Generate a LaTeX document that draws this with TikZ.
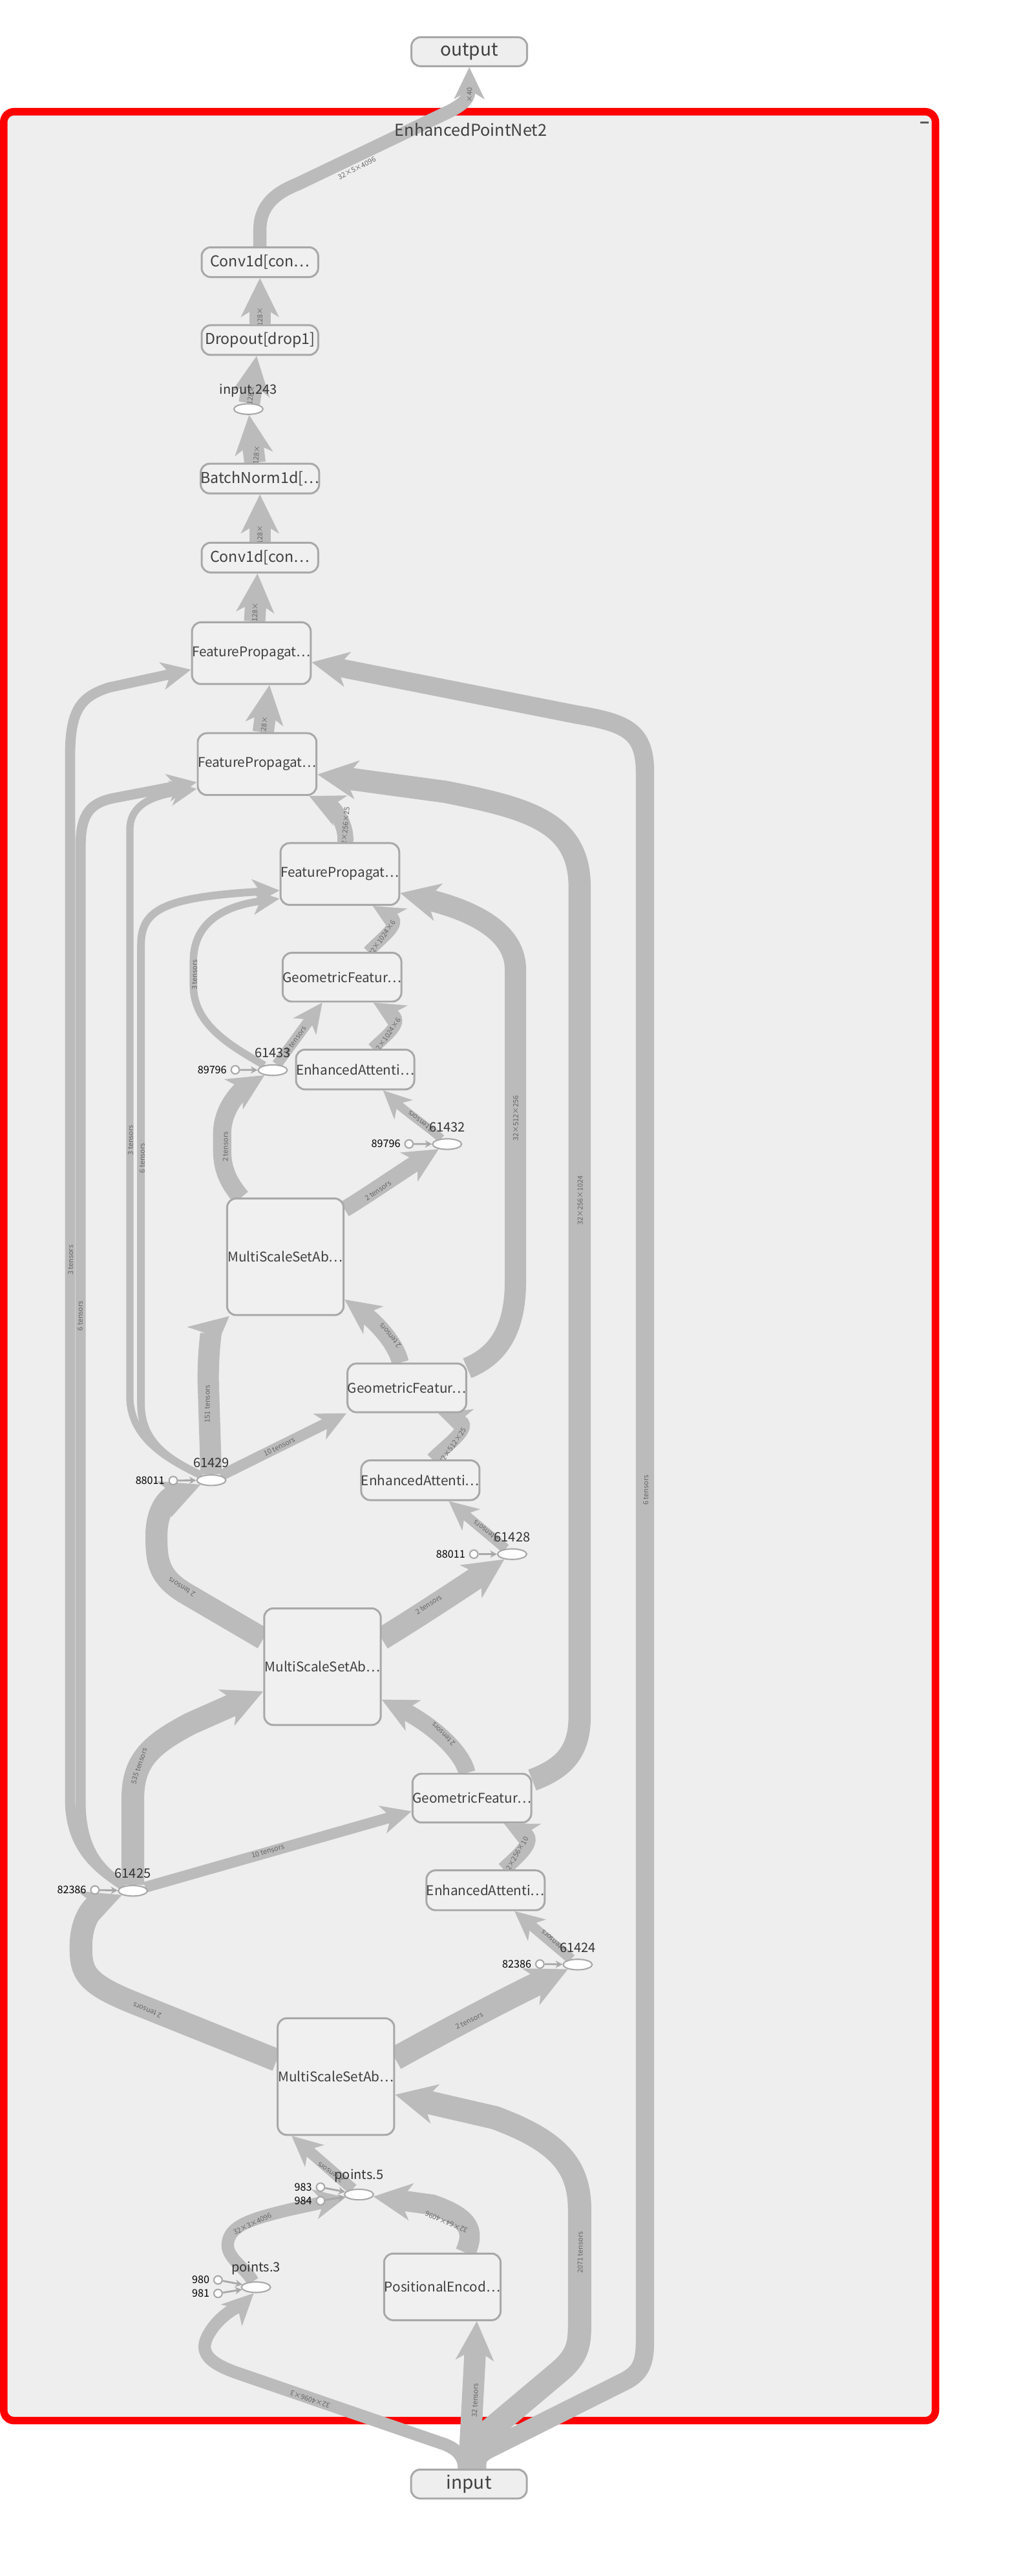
\documentclass[tikz,border=0pt]{standalone}
\usepackage{fontspec}
\setmainfont{Noto Sans CJK SC}
\usetikzlibrary{arrows.meta,positioning,calc,shapes.geometric}
\definecolor{edgegray}{HTML}{BBBBBB}
\definecolor{boxline}{HTML}{A8A8A8}
\definecolor{boxfill}{HTML}{F0F0F0}
\definecolor{panel}{HTML}{EEEEEE}
\definecolor{txt}{HTML}{404040}
\definecolor{lbltxt}{HTML}{666666}
\newcommand{\setfs}[1]{\fontsize{#1}{#1}\selectfont}
\pgfdeclarelayer{bg}
\pgfdeclarelayer{wires}
\pgfdeclarelayer{tags}
\pgfsetlayers{bg,wires,tags,main}

\begin{document}
\begin{tikzpicture}[
  x=0.0254cm, y=-0.0254cm,
  modbox/.style={rectangle, draw=boxline, line width=0.85pt, rounded corners=0.14cm, fill=boxfill, inner sep=0pt, minimum width=1.803cm, text=txt, font=\setfs{5.9}},
  chainbox/.style={modbox, minimum height=0.46cm, font=\setfs{6.6}},
  fpbox/.style={modbox, minimum height=0.955cm},
  gfbox/.style={modbox, minimum height=0.754cm},
  eabox/.style={modbox, minimum height=0.615cm},
  msbox/.style={modbox, minimum height=1.803cm},
  iobox/.style={modbox, minimum width=1.79cm, minimum height=0.447cm, fill=panel, font=\setfs{8}},
  opnode/.style={ellipse, draw=boxline, line width=0.6pt, fill=white, minimum width=0.45cm, minimum height=0.163cm, inner sep=0pt},
  oplbl/.style={font=\setfs{5.7}, text=black!80, inner sep=0pt},
  kdot/.style={circle, draw=boxline, line width=0.6pt, fill=white, minimum size=0.127cm, inner sep=0pt},
  klbl/.style={font=\setfs{4.6}, text=black, inner sep=0pt},
  flow/.style={draw=edgegray, line width=#1, -{Stealth[length=9pt 0.85, width=8pt 0.9, inset=2.5pt 0.25]}},
  cflow/.style={draw=boxline, line width=0.8pt, -{Stealth[length=3pt, width=3.2pt]}},
  elbl/.style={font=\setfs{3.1}, text=lbltxt, inner sep=0pt}
]
\begin{pgfonlayer}{bg}
\fill[white] (0,0) rectangle (616,1568);
\draw[draw=red, line width=3.3pt, fill=panel, rounded corners=0.16cm] (1,68) rectangle (568.4,1473.4);
\fill[black!65] (559,73.8) rectangle (564.4,75.3);
\end{pgfonlayer}
\useasboundingbox (0,0) rectangle (616,1568);

\node[font=\setfs{7.2}, text=txt] (title) at (285.5,79) {EnhancedPointNet2};
\node[iobox] (output) at (284.5,31.5) {output};
\node[iobox] (input) at (284.3,1512) {input};

% head of the network
\node[chainbox] (conv2) at (157,159.6) {Conv1d[con…};
\node[chainbox] (drop) at (157,207) {Dropout[drop1]};
\node[opnode] (inp243) at (150,249) {};
\node[oplbl, above=2.6pt of inp243] (tinp243) {input.243};
\node[chainbox] (bn) at (157,291.3) {BatchNorm1d[…};
\node[chainbox] (conv1) at (157,339.4) {Conv1d[con…};

% feature propagation
\node[fpbox] (fp1) at (151.8,397.6) {FeaturePropagat…};
\node[fpbox] (fp2) at (155.3,465.1) {FeaturePropagat…};
\node[fpbox] (fp3) at (205.7,532) {FeaturePropagat…};

% abstraction levels
\node[gfbox] (gf1) at (207,594.8) {GeometricFeatur…};
\node[eabox] (ea1) at (215,651) {EnhancedAttenti…};
\node[msbox] (ms1) at (172.5,765) {MultiScaleSetAb…};
\node[gfbox] (gf2) at (246.5,844.8) {GeometricFeatur…};
\node[eabox] (ea2) at (254.7,901) {EnhancedAttenti…};
\node[msbox] (ms2) at (195.1,1014.5) {MultiScaleSetAb…};
\node[gfbox] (gf3) at (286.1,1094.5) {GeometricFeatur…};
\node[eabox] (ea3) at (294.4,1150.6) {EnhancedAttenti…};
\node[msbox] (ms3) at (203.3,1264) {MultiScaleSetAb…};
\node[modbox, minimum height=1.03cm] (pe) at (268.1,1392) {PositionalEncod…};

% op nodes and their constants
\node[opnode] (n61433) at (164.8,651.4) {};
\node[oplbl, above=2.6pt of n61433] (t61433) {61433};
\node[kdot] (k61433) at (142,651.2) {};
\node[klbl, left=1.5pt of k61433] (tk61433) {89796};
\node[opnode] (n61432) at (271,696.4) {};
\node[oplbl, above=2.6pt of n61432] (t61432) {61432};
\node[kdot] (k61432) at (247.8,696.3) {};
\node[klbl, left=1.5pt of k61432] (tk61432) {89796};
\node[opnode] (n61429) at (127.4,901) {};
\node[oplbl, above=2.6pt of n61429] (t61429) {61429};
\node[kdot] (k61429) at (104.2,901.2) {};
\node[klbl, left=1.5pt of k61429] (tk61429) {88011};
\node[opnode] (n61428) at (310.6,946) {};
\node[oplbl, above=2.6pt of n61428] (t61428) {61428};
\node[kdot] (k61428) at (287.3,946) {};
\node[klbl, left=1.5pt of k61428] (tk61428) {88011};
\node[opnode] (n61425) at (79.6,1150.9) {};
\node[oplbl, above=2.6pt of n61425] (t61425) {61425};
\node[kdot] (k61425) at (56.5,1150.4) {};
\node[klbl, left=1.5pt of k61425] (tk61425) {82386};
\node[opnode] (n61424) at (350.5,1195.8) {};
\node[oplbl, above=2.6pt of n61424] (t61424) {61424};
\node[kdot] (k61424) at (327.5,1195.5) {};
\node[klbl, left=1.5pt of k61424] (tk61424) {82386};
\node[opnode] (p5) at (217.3,1335.8) {};
\node[oplbl, above=2.6pt of p5] (tp5) {points.5};
\node[kdot] (k983) at (193.9,1331.3) {};
\node[klbl, left=1.5pt of k983] (tk983) {983};
\node[kdot] (k984) at (193.9,1339.6) {};
\node[klbl, left=1.5pt of k984] (tk984) {984};
\node[opnode] (p3) at (154.6,1392.2) {};
\node[oplbl, above=2.6pt of p3] (tp3) {points.3};
\node[kdot] (k980) at (131.5,1387.8) {};
\node[klbl, left=1.5pt of k980] (tk980) {980};
\node[kdot] (k981) at (131.5,1396) {};
\node[klbl, left=1.5pt of k981] (tk981) {981};

\begin{pgfonlayer}{wires}
\draw[flow=5.8pt] (conv2.north) -- (157,140) .. controls (157,126) and (165,118) .. (180,112) -- (272,68) .. controls (281,63.5) and (284.5,60) .. (output.south);
\draw[flow=9.4pt] (drop.north) -- (conv2.south);
\draw[flow=9.4pt] (inp243) -- ($(drop.south)+(-2,0)$);
\draw[flow=9.4pt] ($(bn.north)+(-3,0)$) -- (inp243);
\draw[flow=9.4pt] (conv1.north) -- (bn.south);
\draw[flow=9.4pt] ($(fp1.north)+(2,0)$) -- ($(conv1.south)+(-1.5,0)$);
\draw[flow=9.4pt] ($(fp2.north)+(3.7,0)$) -- ($(fp1.south)+(11,0)$);
\draw[flow=7pt] ($(fp3.north)+(3.3,0)$) .. controls (210,503) and (203,492) .. ($(fp2.south)+(31.7,0)$);
\draw[flow=5.3pt] ($(gf1.north)+(16,0)$) .. controls (232,570) and (244,562) .. ($(fp3.south)+(20,0)$);
\draw[flow=5.3pt] ($(ea1.north)+(10.7,0)$) .. controls (234,630) and (246,622) .. ($(gf1.south)+(19,0)$);
\draw[flow=3.8pt] (n61432) .. controls (262,688) and (245,676) .. ($(ea1.south)+(17,0)$);
\draw[flow=7.2pt] ($(ms1.east)+(0,-29)$) .. controls (222,728) and (245,712) .. (n61432);
\draw[flow=8pt] ($(ms1.north)+(-27,0)$) .. controls (138,720) and (134,712) .. (134,700) -- (134,690) .. controls (134,674) and (146,663) .. (n61433);
\draw[flow=4.6pt] (n61433) -- ($(gf1.south)+(-12,0)$);
\draw[flow=3.3pt] (n61433) .. controls (140,637) and (116.5,624) .. (116.5,600) -- (116.5,585) .. controls (116.5,565) and (130,552) .. ($(fp3.west)+(0,15)$);
\draw[flow=9.4pt] ($(gf2.east)+(0,-12)$) .. controls (300,826) and (312.6,812) .. (312.6,780) -- (312.6,590) .. controls (312.6,565) and (282,553) .. ($(fp3.east)+(0,11.6)$);
\draw[flow=9.8pt] ($(gf3.east)+(0,-11)$) .. controls (340,1077) and (351.7,1068) .. (351.7,1045) -- (351.7,540) .. controls (351.7,500) and (320,492) .. (270,482) -- ($(fp2.east)+(0,6.3)$);
\draw[flow=7.5pt] ($(gf2.north)+(-4,0)$) .. controls (240,818) and (228,805) .. ($(ms1.east)+(0,26)$);
\draw[flow=6pt] ($(ea2.north)+(7.3,0)$) .. controls (270,880) and (288,868) .. ($(gf2.south)+(19,0)$);
\draw[flow=4.4pt] (n61428) -- ($(ea2.south)+(17.3,0)$);
\draw[flow=10pt] ($(ms2.east)+(0,-17)$) .. controls (255,983) and (285,963) .. (n61428);
\draw[flow=9.7pt] ($(ms2.west)+(0,-17)$) -- (112,970) .. controls (95,960) and (94,950) .. (94,935) .. controls (94,920) and (100,912) .. (n61429);
\draw[flow=4.8pt] (n61429) -- (gf2.south west);
\draw[flow=9.4pt] (n61429) -- (125.5,840) .. controls (125.5,818) and (128,810) .. ($(ms1.south west)+(2,0)$);
\draw[flow=3.2pt] (n61429) .. controls (100,888) and (77.8,875) .. (77.8,850) -- (77.8,505) .. controls (77.8,488) and (95,484) .. ($(fp2.west)+(0,15)$);
\draw[flow=3.4pt] (n61429) .. controls (105,890) and (84.6,880) .. (84.6,855) -- (84.6,575) .. controls (84.6,553) and (100,546) .. ($(fp3.west)+(0,10)$);
\draw[flow=4.5pt] (n61425) .. controls (55,1136) and (41.4,1122) .. (41.4,1095) -- (41.4,460) .. controls (41.4,432) and (48,424) .. (65,418.5) -- ($(fp1.west)+(0,10)$);
\draw[flow=4.5pt] (n61425) .. controls (58,1138) and (47.8,1124) .. (47.8,1097) -- (47.8,515) .. controls (47.8,495) and (54,489) .. (67,486) -- ($(fp2.west)+(0,11)$);
\draw[flow=7.5pt] ($(gf3.north)+(-3,0)$) .. controls (280,1066) and (262,1050) .. ($(ms2.east)+(0,20)$);
\draw[flow=6.5pt] ($(ea3.north)+(11,0)$) .. controls (314,1130) and (326,1120) .. ($(gf3.south)+(19.5,0)$);
\draw[flow=4.5pt] (n61424) -- ($(ea3.south)+(17.6,0)$);
\draw[flow=10.4pt] ($(ms3.east)+(0,-11)$) .. controls (270,1236) and (310,1215) .. (n61424);
\draw[flow=10pt] ($(ms3.west)+(0,-10)$) -- (80,1219) .. controls (50,1207) and (48,1200) .. (48,1185) .. controls (48,1168) and (56,1160) .. (n61425);
\draw[flow=4.8pt] (n61425) -- ($(gf3.west)+(0,8)$);
\draw[flow=10pt] (n61425) -- (79.6,1095) .. controls (79.6,1072) and (90,1062) .. (115,1049) -- ($(ms2.west)+(0,15)$);
\draw[flow=5pt] (p5) -- ($(ms3.south)+(-27,0)$);
\draw[flow=5.5pt] (p3) .. controls (148,1380) and (136,1374) .. (137.5,1365) .. controls (139,1355) and (150,1351) .. (175,1345) -- (p5);
\draw[flow=9pt] ($(pe.north)+(14,0)$) .. controls (288,1358) and (285,1350) .. (262,1342) -- (p5);
\draw[flow=9.5pt] (input.north) -- ($(pe.south)+(21,0)$);
\draw[flow=5.5pt] ($(input.north)+(-3,0)$) .. controls (281.3,1495) and (277,1491) .. (270,1488) -- (142,1444) .. controls (120,1436) and (120,1428) .. (129,1416) .. controls (136,1407) and (147,1402) .. (p3.250);
\draw[flow=10.3pt] ($(input.north)+(3,0)$) .. controls (287.3,1492) and (290,1487) .. (296,1480) -- (340,1443) .. controls (350,1434) and (351.7,1428) .. (351.7,1415) -- (351.7,1345) .. controls (351.7,1318) and (338,1303) .. (300,1289) -- ($(ms3.east)+(0,11)$);
\draw[flow=8.1pt] ($(input.north)+(5,0)$) .. controls (289,1497) and (290,1494) .. (296,1491) -- (380,1449) .. controls (389,1444) and (391.5,1438) .. (391.5,1425) -- (391.5,470) .. controls (391.5,445) and (380,440) .. (350,435) -- ($(fp1.east)+(0,5.5)$);

\draw[cflow] (k61433) -- (n61433);
\draw[cflow] (k61432) -- (n61432);
\draw[cflow] (k61429) -- (n61429);
\draw[cflow] (k61428) -- (n61428);
\draw[cflow] (k61425) -- (n61425);
\draw[cflow] (k61424) -- (n61424);
\draw[cflow] (k983) -- (p5);
\draw[cflow] (k984) -- (p5);
\draw[cflow] (k980) -- (p3);
\draw[cflow] (k981) -- (p3);
\end{pgfonlayer}

\begin{pgfonlayer}{tags}
\node[elbl, rotate=27] (l_out) at (216,102.4) {32×5×4096};
\node[elbl, rotate=90] (l_out2) at (284.6,57.8) {×40};
\node[elbl, rotate=90] (l_c2) at (157,193) {128×};
\node[elbl, rotate=81] (l_dr) at (151.5,240.5) {128×};
\node[elbl, rotate=85] (l_i243) at (154.9,276.8) {128×};
\node[elbl, rotate=90] (l_bn) at (157,325.4) {128×};
\node[elbl, rotate=88] (l_c1) at (154,372.8) {128×};
\node[elbl, rotate=83] (l_fp1) at (159.5,441.7) {128×};
\node[elbl, rotate=85] (l_fp3) at (209,503.8) {32×256×25};
\node[elbl, rotate=55] (l_gf1) at (231.4,571) {32×1024×6};
\node[elbl, rotate=55] (l_ea1) at (234.7,630.4) {32×1024×6};
\node[elbl, rotate=143] (l_k32) at (255,682.6) {2 tensors};
\node[elbl, rotate=35] (l_m1b) at (229,724.7) {2 tensors};
\node[elbl, rotate=90] (l_m1a) at (136,698) {2 tensors};
\node[elbl, rotate=54] (l_k33a) at (178.3,633.5) {10 tensors};
\node[elbl, rotate=90] (l_k33b) at (117.2,593.3) {3 tensors};
\node[elbl, rotate=90] (l_gf2) at (312.8,680.6) {32×512×256};
\node[elbl, rotate=90] (l_gf3) at (352,730.5) {32×256×1024};
\node[elbl, rotate=131] (l_gf2b) at (236.4,812.9) {2 tensors};
\node[elbl, rotate=55] (l_ea2) at (274.5,880) {32×512×25};
\node[elbl, rotate=142] (l_k28) at (294.8,932) {2 tensors};
\node[elbl, rotate=33] (l_m2b) at (259.8,976.7) {2 tensors};
\node[elbl, rotate=148] (l_m2a) at (109.5,966) {2 tensors};
\node[elbl, rotate=26] (l_k29a) at (168.8,880.6) {10 tensors};
\node[elbl, rotate=90] (l_k29b) at (125,854.5) {151 tensors};
\node[elbl, rotate=90] (l_k29c) at (78.2,694) {3 tensors};
\node[elbl, rotate=90] (l_k29d) at (85.3,705) {6 tensors};
\node[elbl, rotate=90] (l_k25a) at (41.7,767) {3 tensors};
\node[elbl, rotate=90] (l_k25b) at (47.5,801) {6 tensors};
\node[elbl, rotate=135] (l_gf3b) at (268.8,1055.6) {2 tensors};
\node[elbl, rotate=60] (l_ea3) at (313.2,1129.3) {32×256×10};
\node[elbl, rotate=139] (l_k24) at (336,1181.5) {2 tensors};
\node[elbl, rotate=26] (l_m3b) at (284.5,1230) {2 tensors};
\node[elbl, rotate=158] (l_m3a) at (88.4,1223.6) {2 tensors};
\node[elbl, rotate=16] (l_k25c) at (161.8,1126.7) {10 tensors};
\node[elbl, rotate=72] (l_k25d) at (83.5,1075) {535 tensors};
\node[elbl, rotate=144] (l_p5) at (200,1322.3) {2 tensors};
\node[elbl, rotate=26] (l_p3) at (152.4,1353.6) {32×3×4096};
\node[elbl, rotate=157] (l_pe) at (270.6,1352.6) {32×64×4096};
\node[elbl, rotate=88] (l_in1) at (288,1461) {32 tensors};
\node[elbl, rotate=161] (l_in2) at (187.6,1460.5) {32×4096×3};
\node[elbl, rotate=90] (l_in3) at (352,1371) {2071 tensors};
\node[elbl, rotate=90] (l_in4) at (392,907) {6 tensors};
\end{pgfonlayer}
\end{tikzpicture}
\end{document}
